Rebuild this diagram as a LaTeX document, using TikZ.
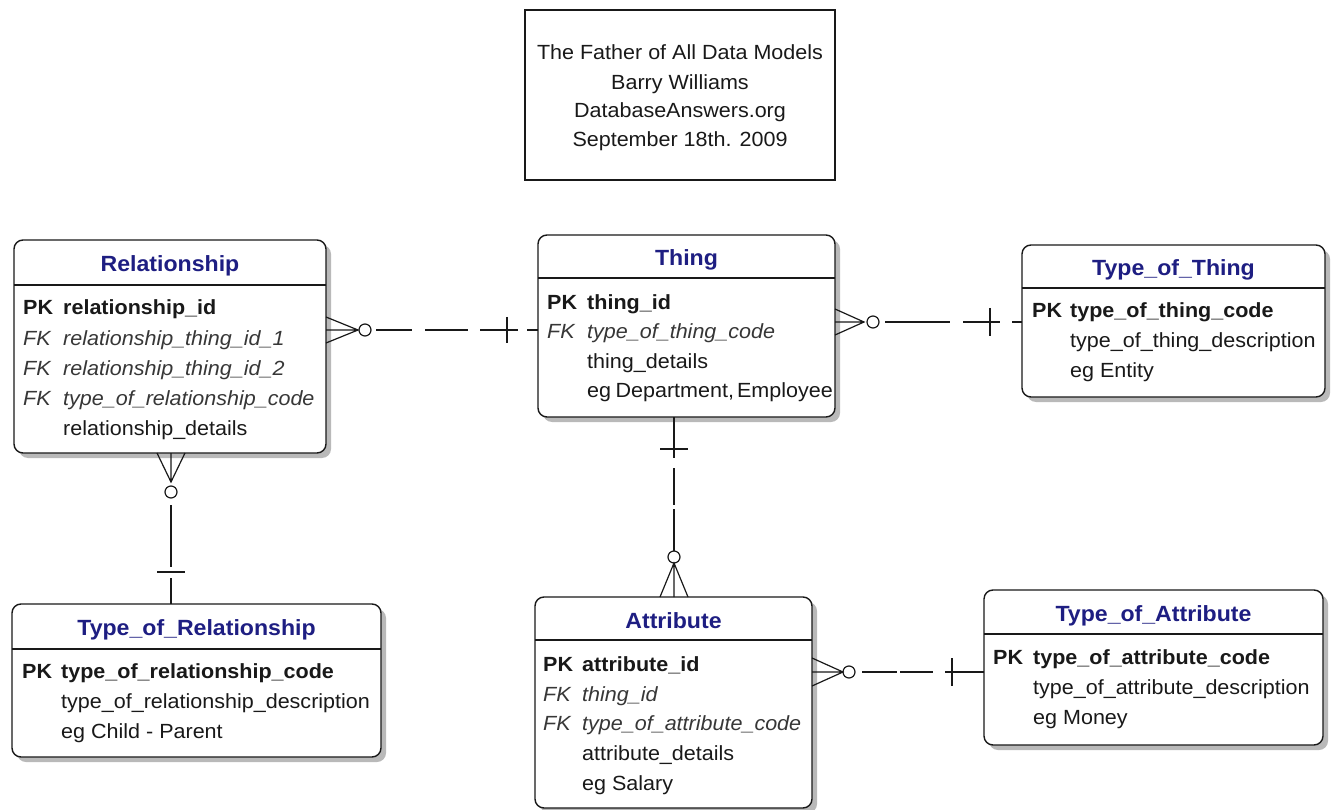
\documentclass[tikz,border=0pt]{standalone}
\usepackage{fontspec}
\setmainfont{Liberation Sans}[FakeStretch=1.05]
\usetikzlibrary{shadows,calc}

\definecolor{ink}{RGB}{25,25,25}
\definecolor{titleblue}{RGB}{30,30,130}
\definecolor{fkgrey}{RGB}{55,55,55}
\definecolor{shade}{RGB}{185,185,185}

\tikzset{
  entbox/.style={draw=ink, line width=1.4pt, rounded corners=9pt, fill=white,
    inner sep=0pt, outer sep=0pt,
    drop shadow={shadow xshift=5pt, shadow yshift=-5pt, fill=shade, opacity=1}},
  divider/.style={draw=ink, line width=1.3pt},
  etitle/.style={anchor=base, inner sep=0pt, text=titleblue,
    font=\fontsize{22}{26}\selectfont\bfseries},
  keytag/.style={anchor=base west, inner sep=0pt, text=ink,
    font=\fontsize{20.5}{24}\selectfont\bfseries},
  fktag/.style={anchor=base west, inner sep=0pt, text=fkgrey,
    font=\fontsize{20.5}{24}\selectfont\itshape},
  field/.style={anchor=base west, inner sep=0pt, text=ink,
    font=\fontsize{20.5}{24}\selectfont},
  headtext/.style={anchor=base, inner sep=0pt, text=ink,
    font=\fontsize{20.5}{24}\selectfont},
  headbox/.style={draw=ink, line width=1.3pt, fill=white, inner sep=0pt, outer sep=0pt},
  conn/.style={draw=ink, line width=1.2pt}
}

% entity box: name, left, top, right, bottom, divider y
\newcommand\entitybox[6]{%
  \node[entbox, minimum width={#4-#2}, minimum height={#5-#3}, anchor=north west] (#1) at (#2,#3) {};
  \draw[divider] (#1.west |- 0,#6) -- (#1.east |- 0,#6);
}

\begin{document}
\begin{tikzpicture}[x=1pt,y=-1pt]
\useasboundingbox[fill=white] (0,0) rectangle (1336,810);

% heading box
\node[headbox, minimum width=310, minimum height=170, anchor=north west] (head) at (525,10) {};
\node[headtext] (head1) at (680,60)  {The Father of All Data Models};
\node[headtext] (head2) at (680,90)  {Barry Williams};
\node[headtext] (head3) at (680,118) {DatabaseAnswers.org};
\node[headtext] (head4) at (680,147) {September 18th. 2009};

% Relationship
\entitybox{rel}{14}{240}{326}{453}{285}
\node[etitle] (rel-t) at (170,272) {Relationship};
\node[keytag] (rel-k1) at (23,315) {PK};  \node[keytag] (rel-f1) at (63,315) {relationship\_id};
\node[fktag]  (rel-k2) at (23,345) {FK};  \node[fktag]  (rel-f2) at (63,345) {relationship\_thing\_id\_1};
\node[fktag]  (rel-k3) at (23,375) {FK};  \node[fktag]  (rel-f3) at (63,375) {relationship\_thing\_id\_2};
\node[fktag]  (rel-k4) at (23,405) {FK};  \node[fktag]  (rel-f4) at (63,405) {type\_of\_relationship\_code};
\node[field]  (rel-f5) at (63,435) {relationship\_details};

% Thing
\entitybox{thing}{538}{235}{835}{417}{278}
\node[etitle] (thing-t) at (686.5,266) {Thing};
\node[keytag] (thing-k1) at (547,309) {PK}; \node[keytag] (thing-f1) at (587,309) {thing\_id};
\node[fktag]  (thing-k2) at (547,338) {FK}; \node[fktag]  (thing-f2) at (587,338) {type\_of\_thing\_code};
\node[field]  (thing-f3) at (587,368) {thing\_details};
\node[field]  (thing-f4) at (587,397) {eg\hspace{-1.5pt} Department,\hspace{-3pt} Employee};

% Type_of_Thing
\entitybox{tot}{1022}{245}{1325}{397}{288}
\node[etitle] (tot-t) at (1173.5,276) {Type\_of\_Thing};
\node[keytag] (tot-k1) at (1032,317) {PK}; \node[keytag] (tot-f1) at (1070,317) {type\_of\_thing\_code};
\node[field]  (tot-f2) at (1070,347) {type\_of\_thing\_description};
\node[field]  (tot-f3) at (1070,377) {eg Entity};

% Type_of_Relationship
\entitybox{tor}{12}{604}{381}{757}{649}
\node[etitle] (tor-t) at (196.5,635) {Type\_of\_Relationship};
\node[keytag] (tor-k1) at (22,678) {PK}; \node[keytag] (tor-f1) at (61,678) {type\_of\_relationship\_code};
\node[field]  (tor-f2) at (61,708) {type\_of\_relationship\_description};
\node[field]  (tor-f3) at (61,738) {eg Child - Parent};

% Attribute
\entitybox{attr}{535}{597}{812}{808}{640}
\node[etitle] (attr-t) at (673.5,628) {Attribute};
\node[keytag] (attr-k1) at (543,671) {PK}; \node[keytag] (attr-f1) at (582,671) {attribute\_id};
\node[fktag]  (attr-k2) at (543,701) {FK}; \node[fktag]  (attr-f2) at (582,701) {thing\_id};
\node[fktag]  (attr-k3) at (543,730) {FK}; \node[fktag]  (attr-f3) at (582,730) {type\_of\_attribute\_code};
\node[field]  (attr-f4) at (582,760) {attribute\_details};
\node[field]  (attr-f5) at (582,790) {eg Salary};

% Type_of_Attribute
\entitybox{toa}{984}{590}{1323}{745}{634}
\node[etitle] (toa-t) at (1153.5,621) {Type\_of\_Attribute};
\node[keytag] (toa-k1) at (993,664) {PK}; \node[keytag] (toa-f1) at (1033,664) {type\_of\_attribute\_code};
\node[field]  (toa-f2) at (1033,694) {type\_of\_attribute\_description};
\node[field]  (toa-f3) at (1033,724) {eg Money};

% connector levels
\coordinate (r1) at (0,330);
\coordinate (r2) at (0,322);
\coordinate (r5) at (0,672);
\coordinate (c3) at (171,0);
\coordinate (c4) at (674,0);

% Relationship (zero or many) -- Thing (one)
\begin{scope}[shift={(rel.east |- r1)}]
  \draw[conn] (0,-13) -- (32,0) -- (0,13) (0,0) -- (32,0);
  \draw[conn] (39,0) circle[radius=6pt];
  \draw[conn] (50,0) -- (86,0) (99,0) -- (142,0) (154,0) -- (192,0);
  \draw[conn] (181,-13) -- (181,13);
\end{scope}
\draw[conn] ($(thing.west |- r1)+(-11,0)$) -- (thing.west |- r1);

% Thing (zero or many) -- Type_of_Thing (one)
\begin{scope}[shift={(thing.east |- r2)}]
  \draw[conn] (0,-13) -- (29,0) -- (0,13) (0,0) -- (29,0);
  \draw[conn] (38,0) circle[radius=6pt];
  \draw[conn] (50,0) -- (115,0) (128,0) -- (165,0);
  \draw[conn] (155,-14) -- (155,14);
\end{scope}
\draw[conn] ($(tot.west |- r2)+(-10,0)$) -- (tot.west |- r2);

% Relationship (zero or many) -- Type_of_Relationship (one)
\begin{scope}[shift={(rel.south -| c3)}]
  \draw[conn] (-14,0) -- (0,29) -- (14,0) (0,0) -- (0,29);
  \draw[conn] (0,39) circle[radius=6pt];
  \draw[conn] (0,52) -- (0,114);
  \draw[conn] (-14,119) -- (14,119);
\end{scope}
\draw[conn] ($(rel.south -| c3)+(0,125)$) -- (tor.north -| c3);

% Thing (one) -- Attribute (zero or many)
\begin{scope}[shift={(thing.south -| c4)}]
  \draw[conn] (0,0) -- (0,41) (0,51) -- (0,88) (0,92) -- (0,134);
  \draw[conn] (-14,32) -- (14,32);
\end{scope}
\begin{scope}[shift={(attr.north -| c4)}]
  \draw[conn] (0,-40) circle[radius=6pt];
  \draw[conn] (-14,0) -- (0,-34) -- (14,0) (0,0) -- (0,-34);
\end{scope}

% Attribute (zero or many) -- Type_of_Attribute (one)
\begin{scope}[shift={(attr.east |- r5)}]
  \draw[conn] (0,-14) -- (31,0) -- (0,14) (0,0) -- (31,0);
  \draw[conn] (37,0) circle[radius=6pt];
  \draw[conn] (50,0) -- (85,0) (88,0) -- (121,0);
  \draw[conn] (140,-14) -- (140,14);
\end{scope}
\draw[conn] ($(attr.east |- r5)+(133,0)$) -- (toa.west |- r5);
\end{tikzpicture}
\end{document}
